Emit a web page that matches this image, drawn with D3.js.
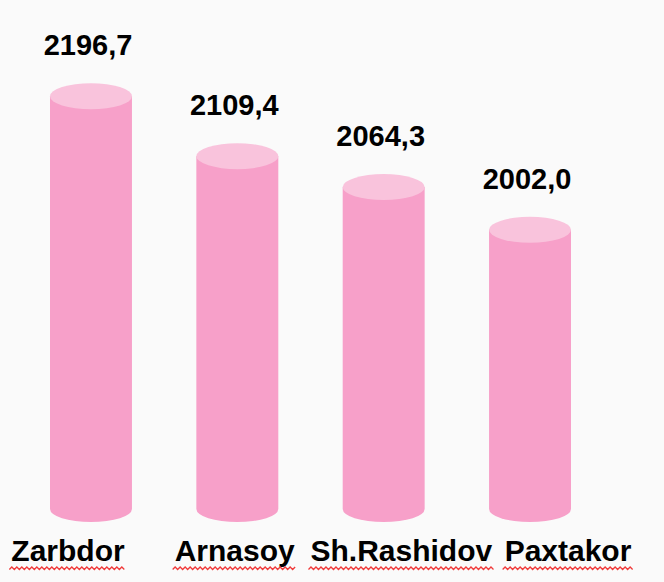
<!DOCTYPE html>
<html>
<head>
<meta charset="utf-8">
<script src="https://cdn.jsdelivr.net/npm/d3@7"></script>
<style>
  html, body { margin: 0; padding: 0; background: #fafafa; }
  svg { display: block; }
  text { font-family: "Liberation Sans", Arial, sans-serif; font-weight: bold; fill: #000; }
</style>
</head>
<body>
<div id="chart"></div>
<script>
/* Data */
var districts = ["Zarbdor", "Arnasoy", "Sh.Rashidov", "Paxtakor"];
var values = [2196.7, 2109.4, 2064.3, 2002.0];
var valueLabels = ["2196,7", "2109,4", "2064,3", "2002,0"];

/* Settings */
var width = 664,
    height = 582,
    ry = 13,           /* ellipse half height of the cylinder caps */
    bodyColor = "#f7a0c9",
    capColor = "#f9c3dc";

var svg = d3.select("#chart").append("svg")
    .attr("width", width)
    .attr("height", height)
    .attr("viewBox", "0 0 " + width + " " + height);

svg.append("rect")
  .attr("width", width)
  .attr("height", height)
  .attr("fill", "#fafafa");

/* Scales */
var x = d3.scaleBand()
    .domain(districts)
    .range([50, 571])
    .paddingInner(0.44)
    .paddingOuter(0);

var xLabel = d3.scalePoint()
    .domain(districts)
    .range([68, 568]);

var y = d3.scaleLinear()
    .domain([1595, 2200])
    .range([509, 94]);

var data = districts.map(function(d, i) {
  return { name: d, value: values[i], label: valueLabels[i] };
});

var rx = x.bandwidth() / 2;

var bars = svg.append("g").attr("class", "bars")
  .selectAll("g")
  .data(data)
  .join("g");

/* cylinder body: side walls + bottom half ellipse */
bars.append("path")
  .attr("fill", bodyColor)
  .attr("d", function(d) {
    var cx = x(d.name) + rx, top = y(d.value), base = y.range()[0];
    return "M" + (cx - rx) + "," + top +
      "L" + (cx - rx) + "," + base +
      "A" + rx + "," + ry + " 0 0 0 " + (cx + rx) + "," + base +
      "L" + (cx + rx) + "," + top + "Z";
  });

/* cylinder cap */
bars.append("ellipse")
  .attr("fill", capColor)
  .attr("cx", function(d) { return x(d.name) + rx; })
  .attr("cy", function(d) { return y(d.value); })
  .attr("rx", rx)
  .attr("ry", ry);

/* value labels */
bars.append("text")
  .attr("x", function(d) { return x(d.name) + rx - 3; })
  .attr("y", function(d) { return y(d.value) - ry - 28; })
  .attr("text-anchor", "middle")
  .attr("font-size", 29)
  .text(function(d) { return d.label; });

/* category labels */
var labels = svg.append("g").attr("class", "labels")
  .selectAll("g")
  .data(data)
  .join("g")
  .attr("transform", function(d) { return "translate(" + xLabel(d.name) + ",561)"; });

labels.append("text")
  .attr("text-anchor", "middle")
  .attr("font-size", 30)
  .text(function(d) { return d.name; })
  .each(function(d) { d.w = this.getComputedTextLength(); });

/* red spell-check squiggles under the names */
var squiggle = d3.line();
labels.append("path")
  .attr("fill", "none")
  .attr("stroke", "#f03a3a")
  .attr("stroke-width", 1.3)
  .attr("d", function(d) {
    var pts = [], step = 2.5, n = Math.floor((d.w + 4) / step);
    for (var k = 0; k <= n; k++) {
      pts.push([-d.w / 2 - 2 + k * step, 6 + (k % 2 ? 0 : 2.5)]);
    }
    return squiggle(pts);
  });
</script>
</body>
</html>
